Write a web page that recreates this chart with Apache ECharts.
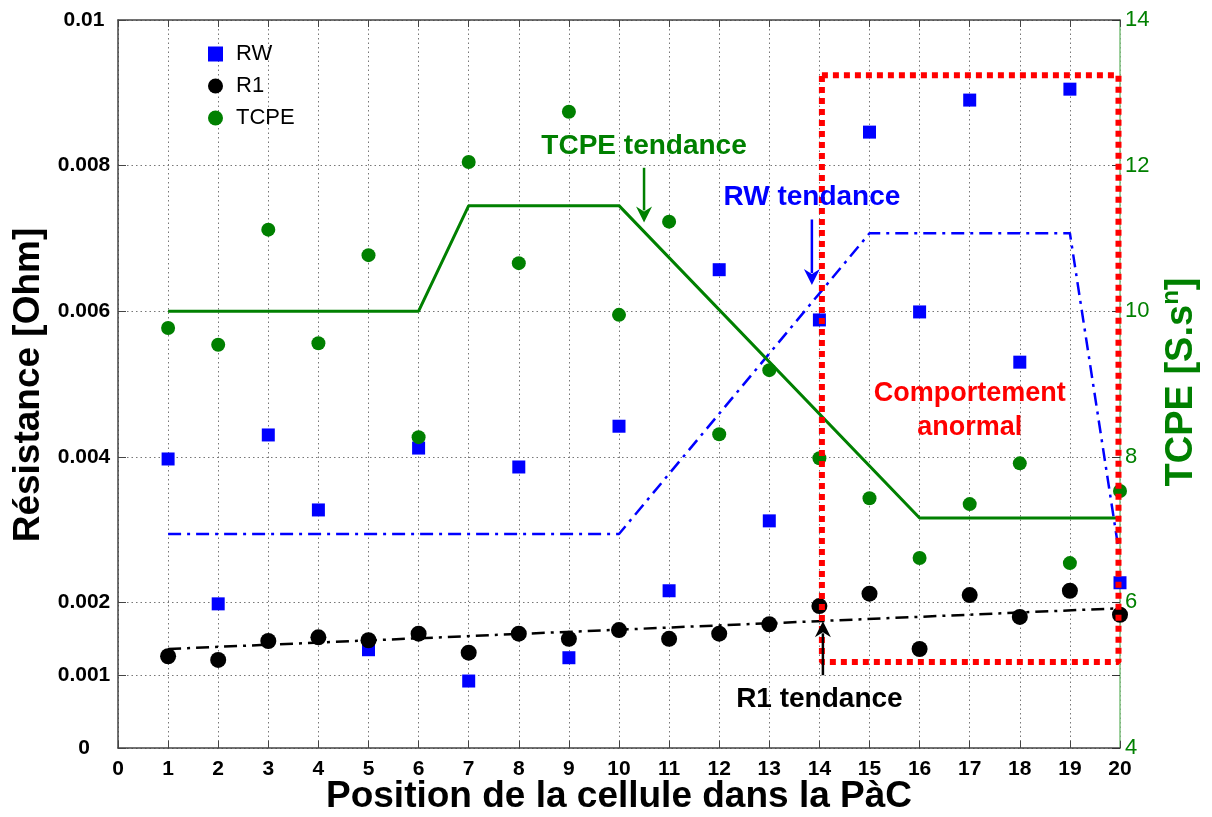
<!DOCTYPE html>
<html>
<head>
<meta charset="utf-8">
<script src="https://cdn.jsdelivr.net/npm/echarts@6/dist/echarts.min.js"></script>
<style>
  html, body { margin: 0; padding: 0; background: #fff; }
  #chart { width: 1212px; height: 817px; }
</style>
</head>
<body>
<div id="chart"></div>
<script>
// Cell positions in the stack
const positions = [1, 2, 3, 4, 5, 6, 7, 8, 9, 10, 11, 12, 13, 14, 15, 16, 17, 18, 19, 20];

// Measured values per cell
const rwValues = [0.00397, 0.00198, 0.00430, 0.00327, 0.00135, 0.00412, 0.00092, 0.00386, 0.00124, 0.00442,
                  0.00216, 0.00657, 0.00312, 0.00588, 0.00846, 0.00599, 0.00890, 0.00530, 0.00905, 0.00227];
const r1Values = [0.00126, 0.00121, 0.00147, 0.00152, 0.00148, 0.00157, 0.00131, 0.00157, 0.00150, 0.00162,
                  0.00150, 0.00157, 0.00170, 0.00195, 0.00212, 0.00136, 0.00210, 0.00180, 0.00216, 0.00183];
const tcpeValues = [9.77, 9.54, 11.12, 9.56, 10.77, 8.27, 12.05, 10.66, 12.74, 9.95,
                    11.23, 8.31, 9.19, 7.98, 7.43, 6.61, 7.35, 7.91, 6.54, 7.53];

// Trend lines [position, value]
const rwTrend = [[1, 0.00294], [10, 0.00294], [15, 0.00707], [19, 0.00707], [20, 0.0026]];
const r1Trend = [[1, 0.00136], [20, 0.00192]];
const tcpeTrend = [[1, 10], [6, 10], [7, 11.45], [10, 11.45], [16, 7.16], [20, 7.16]];

// Box around the abnormal cells (position range, resistance range)
const abnormalBox = { x0: 14.05, x1: 19.97, y0: 0.00118, y1: 0.00924 };

// Tick labels
const resistanceTicks = [0, 0.001, 0.002, 0.004, 0.006, 0.008, 0.01];
const resistanceTickLabels = ['0', '0.001', '0.002', '0.004', '0.006', '0.008', '0.01'];
const tcpeTicks = [4, 6, 8, 10, 12, 14];
const tcpeMinorTicks = [4, 5, 6, 8, 10, 12, 14];

const BLUE = '#0000ff';
const GREEN = '#008000';
const RED = '#ff0000';
const FONT = '"Liberation Sans", Arial, sans-serif';

const chart = echarts.init(document.getElementById('chart'), null, { renderer: 'canvas' });

function pairs(xs, ys) { return xs.map((x, i) => [x, ys[i]]); }

const box = abnormalBox;
const boxPath = [[box.x0, box.y1], [box.x1, box.y1], [box.x1, box.y0], [box.x0, box.y0], [box.x0, box.y1]];

const dashDot = [13, 6, 3, 6];
const gridDots = { type: [1.5, 3], color: '#777', width: 1 };

chart.setOption({
  animation: false,
  backgroundColor: '#fff',
  grid: { left: 118, right: 92, top: 20, bottom: 69, containLabel: false },
  legend: {
    orient: 'vertical',
    left: 203,
    top: 38,
    itemGap: 10,
    itemWidth: 15,
    itemHeight: 15,
    data: ['RW', 'R1', 'TCPE'],
    textStyle: { fontFamily: FONT, fontSize: 22, color: '#000', padding: [0, 0, 0, 8] }
  },
  xAxis: [{
    type: 'value', min: 0, max: 20, interval: 1, position: 'bottom',
    axisLine: { onZero: false, lineStyle: { color: '#444', width: 1.5 } },
    axisTick: { inside: true, length: 7, lineStyle: { color: '#444' } },
    axisLabel: { fontFamily: FONT, fontSize: 21, fontWeight: 'bold', color: '#000', margin: 11 },
    splitLine: { show: true, lineStyle: gridDots }
  }, {
    type: 'value', min: 0, max: 20, interval: 1, position: 'top',
    axisLine: { onZero: false, lineStyle: { color: '#444', width: 1.5 } },
    axisTick: { inside: true, length: 7, lineStyle: { color: '#444' } },
    axisLabel: { show: false },
    splitLine: { show: false }
  }],
  yAxis: [{
    type: 'value', min: 0, max: 0.01, interval: 0.001, position: 'left',
    axisLine: { show: true, onZero: false, lineStyle: { color: '#444', width: 1.5 } },
    axisTick: { show: true, inside: true, length: 8, customValues: resistanceTicks, lineStyle: { color: '#444' } },
    axisLabel: {
      customValues: resistanceTicks,
      fontFamily: FONT, fontSize: 21, fontWeight: 'bold', color: '#000',
      align: 'center', margin: 34,
      formatter: v => {
        const i = resistanceTicks.findIndex(t => Math.abs(t - v) < 1e-9);
        return i >= 0 ? resistanceTickLabels[i] : '';
      }
    },
    splitLine: { show: true, lineStyle: gridDots }
  }, {
    type: 'value', min: 4, max: 14, interval: 1, position: 'right',
    axisLine: { show: true, onZero: false, lineStyle: { color: '#7cc07c', width: 1.5 } },
    axisTick: { show: true, inside: true, length: 8, customValues: tcpeMinorTicks, lineStyle: { color: '#333' } },
    axisLabel: {
      customValues: tcpeTicks,
      fontFamily: FONT, fontSize: 22, color: GREEN, margin: 5
    },
    splitLine: { show: false }
  }],
  series: [
    {
      name: 'RW trend', type: 'line', yAxisIndex: 0, data: rwTrend, symbol: 'none', z: 3,
      lineStyle: { color: BLUE, width: 2.5, type: dashDot }
    },
    {
      name: 'R1 trend', type: 'line', yAxisIndex: 0, data: r1Trend, symbol: 'none', z: 3,
      lineStyle: { color: '#000', width: 2.5, type: dashDot }
    },
    {
      name: 'TCPE trend', type: 'line', yAxisIndex: 1, data: tcpeTrend, symbol: 'none', z: 3,
      lineStyle: { color: GREEN, width: 3 }
    },
    {
      name: 'RW', type: 'scatter', yAxisIndex: 0, data: pairs(positions, rwValues),
      symbol: 'rect', symbolSize: 13, itemStyle: { color: BLUE, opacity: 1 }, z: 4
    },
    {
      name: 'R1', type: 'scatter', yAxisIndex: 0, data: pairs(positions, r1Values),
      symbol: 'circle', symbolSize: 16, itemStyle: { color: '#000', opacity: 1 }, z: 4
    },
    {
      name: 'TCPE', type: 'scatter', yAxisIndex: 1, data: pairs(positions, tcpeValues),
      symbol: 'circle', symbolSize: 14, itemStyle: { color: GREEN, opacity: 1 }, z: 4
    },
    {
      name: 'Zone', type: 'line', yAxisIndex: 0, data: boxPath, symbol: 'none', z: 6,
      lineStyle: { color: RED, width: 6, type: [6, 5], cap: 'butt' }
    }
  ]
});

// Annotations placed in data coordinates
function px(x, y, axis) {
  return chart.convertToPixel({ xAxisIndex: 0, yAxisIndex: axis }, [x, y]);
}

function arrow(from, to, color) {
  const dx = to[0] - from[0], dy = to[1] - from[1];
  const len = Math.sqrt(dx * dx + dy * dy);
  const ux = dx / len, uy = dy / len;
  const hl = 16, hw = 8;
  const bx = to[0] - ux * hl, by = to[1] - uy * hl;
  const nx = -uy, ny = ux;
  return [{
    type: 'line', z: 10,
    shape: { x1: from[0], y1: from[1], x2: bx + ux * 4, y2: by + uy * 4 },
    style: { stroke: color, lineWidth: 2.5 }
  }, {
    type: 'polygon', z: 10,
    shape: { points: [to, [bx + nx * hw, by + ny * hw], [bx + ux * 5, by + uy * 5], [bx - nx * hw, by - ny * hw]] },
    style: { fill: color }
  }];
}

function label(text, p, color, size) {
  return {
    type: 'text', z: 10, x: p[0], y: p[1],
    style: {
      text: text, fill: color, font: 'bold ' + size + 'px ' + FONT,
      align: 'center', verticalAlign: 'middle', lineHeight: 34
    }
  };
}

const graphics = [];
graphics.push(label('TCPE tendance', px(10.5, 12.26, 1), GREEN, 28));
graphics.push(...arrow(px(10.5, 11.97, 1), px(10.5, 11.22, 1), GREEN));
graphics.push(label('RW tendance', px(13.85, 0.00757, 0), BLUE, 28));
graphics.push(...arrow(px(13.85, 0.00726, 0), px(13.85, 0.00636, 0), BLUE));
graphics.push(label('Comportement\nanormal', px(17.0, 0.00464, 0), RED, 27));
graphics.push(label('R1 tendance', px(14.0, 0.00067, 0), '#000', 28));
graphics.push(...arrow(px(14.07, 0.00100, 0), px(14.07, 0.00174, 0), '#000'));

// Axis titles
graphics.push({
  type: 'text', z: 10, x: 29, y: 385, rotation: Math.PI / 2,
  style: { text: 'Résistance [Ohm]', fill: '#000', font: 'bold 37px ' + FONT, align: 'center', verticalAlign: 'middle' }
});
graphics.push({
  type: 'text', z: 10, x: 619, y: 797,
  style: { text: 'Position de la cellule dans la PàC', fill: '#000', font: 'bold 37px ' + FONT, align: 'center', verticalAlign: 'middle' }
});
graphics.push({
  type: 'text', z: 10, x: 1180, y: 382, rotation: Math.PI / 2,
  style: {
    text: '{a|TCPE [S.s}{s|n}{a|]}',
    align: 'center', verticalAlign: 'middle',
    rich: {
      a: { fill: GREEN, font: 'bold 38px ' + FONT, verticalAlign: 'bottom' },
      s: { fill: GREEN, font: 'bold 24px ' + FONT, verticalAlign: 'top', padding: [0, 0, 18, 0] }
    }
  }
});

chart.setOption({ graphic: graphics });
</script>
</body>
</html>
